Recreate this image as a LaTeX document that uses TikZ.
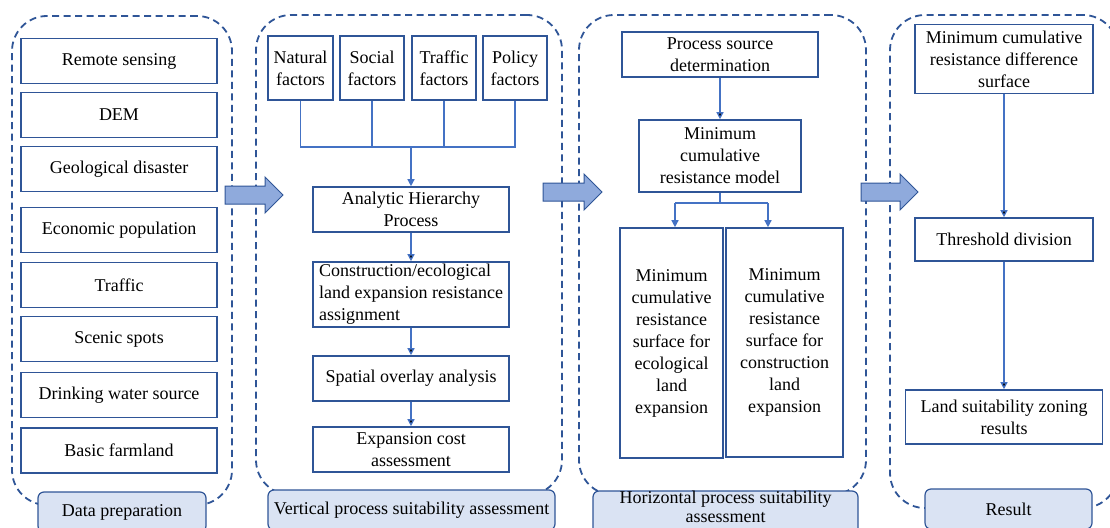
\documentclass[tikz,border=0pt]{standalone}
\usepackage{fontspec}
\setmainfont{Liberation Serif}
\usetikzlibrary{arrows.meta}
\definecolor{boxblue}{HTML}{2F5597}
\definecolor{linkblue}{HTML}{4472C4}
\definecolor{labelfill}{HTML}{DAE3F3}
\definecolor{arrowfill}{HTML}{8FAADC}

\begin{document}
\begin{tikzpicture} [x=1pt, y=-1pt, font=\fontsize{18}{22}\selectfont,
                    panel_style/.style={draw=boxblue, line width=1.8pt, dash pattern=on 7pt off 4.5pt, rounded corners=35pt, inner sep=0pt},
                    label_style/.style={draw=boxblue, line width=1.2pt, fill=labelfill, rounded corners=6pt, align=center, inner sep=0pt},
                    box_style/.style={draw=boxblue, line width=1.6pt, fill=white, align=center, inner sep=0pt},
                    link_style/.style={draw=linkblue, line width=1.3pt},
                    tip_style/.style={-{Triangle[length=7pt,width=7pt]}},
                    bigarrow_style/.style={draw=boxblue, line width=1pt, fill=arrowfill}]
                    \useasboundingbox (0,0) rectangle (1110,527);
                    % dashed stage frames
                    \node[panel_style, minimum width=220pt, minimum height=489pt] (p1) at (122,260.5) {};
                    \node[panel_style, minimum width=306pt, minimum height=480pt] (p2) at (409,255) {};
                    \node[panel_style, minimum width=287pt, minimum height=480pt] (p3) at (722.5,255) {};
                    \node[panel_style, minimum width=228pt, minimum height=493pt] (p4) at (1004,261.5) {};
                    \node[label_style, minimum width=168pt, minimum height=40pt] (l1) at (122,512) {Data preparation};
                    \node[label_style, minimum width=287pt, minimum height=40pt] (l2) at (411.5,510) {Vertical process suitability assessment};
                    \node[label_style, minimum width=265pt, minimum height=44pt] (l3) at (725.5,513) {};
                    \node[align=center, inner sep=0pt, font=\fontsize{18}{19}\selectfont, anchor=north] (l3t) at (725.5,491) {Horizontal process suitability\\assessment};
                    \node[label_style, minimum width=167pt, minimum height=40pt] (l4) at (1008.5,509) {Result};
                    % data preparation
                    \node[box_style, minimum width=196pt, minimum height=45pt] (d1) at (119,61) {Remote sensing};
                    \node[box_style, minimum width=196pt, minimum height=45pt] (d2) at (119,115) {DEM};
                    \node[box_style, minimum width=196pt, minimum height=45pt] (d3) at (119,169) {Geological disaster};
                    \node[box_style, minimum width=196pt, minimum height=45pt] (d4) at (119,230) {Economic population};
                    \node[box_style, minimum width=196pt, minimum height=45pt] (d5) at (119,285) {Traffic};
                    \node[box_style, minimum width=196pt, minimum height=45pt] (d6) at (119,339) {Scenic spots};
                    \node[box_style, minimum width=196pt, minimum height=45pt] (d7) at (119,395) {Drinking water source};
                    \node[box_style, minimum width=196pt, minimum height=45pt] (d8) at (119,450.5) {Basic farmland};
                    % vertical process
                    \node[box_style, minimum width=65pt, minimum height=64pt] (f1) at (300.5,68) {Natural\\factors};
                    \node[box_style, minimum width=64pt, minimum height=64pt] (f2) at (372,68) {Social\\factors};
                    \node[box_style, minimum width=64pt, minimum height=64pt] (f3) at (444,68) {Traffic\\factors};
                    \node[box_style, minimum width=64pt, minimum height=64pt] (f4) at (515,68) {Policy\\factors};
                    \node[box_style, minimum width=196pt, minimum height=45pt] (v1) at (411,209.5) {Analytic Hierarchy\\Process};
                    \node[box_style, minimum width=196pt, minimum height=65pt, align=left] (v2) at (411,294.5) {Construction/ecological\\land expansion resistance\\assignment};
                    \node[box_style, minimum width=196pt, minimum height=45pt] (v3) at (411,378.5) {Spatial overlay analysis};
                    \node[box_style, minimum width=196pt, minimum height=45pt] (v4) at (411,449.5) {Expansion cost\\assessment};
                    \coordinate (bus) at (411,147);
                    \draw[link_style] (f1.south) |- (bus) -| (f4.south);
                    \draw[link_style] (f2.south) -- (f2.south |- bus);
                    \draw[link_style] (f3.south) -- (f3.south |- bus);
                    \draw[link_style, tip_style] (bus) -- (v1.north);
                    \draw[link_style, tip_style] (v1) edge (v2);
                    \draw[link_style, tip_style] (v2) edge (v3);
                    \draw[link_style, tip_style] (v3) edge (v4);
                    % horizontal process
                    \node[box_style, minimum width=196pt, minimum height=45pt] (h1) at (720,54.5) {Process source\\determination};
                    \node[box_style, minimum width=162pt, minimum height=72pt] (h2) at (720,156) {Minimum\\cumulative\\resistance model};
                    \node[box_style, minimum width=103pt, minimum height=230pt] (h3) at (671.5,343) {Minimum\\cumulative\\resistance\\surface for\\ecological\\land\\expansion};
                    \node[box_style, minimum width=117pt, minimum height=229pt] (h4) at (784.5,342.5) {Minimum\\cumulative\\resistance\\surface for\\construction\\land\\expansion};
                    \coordinate (splitl) at (675,203);
                    \coordinate (splitr) at (768,203);
                    \draw[link_style, tip_style] (h1) edge (h2);
                    \draw[link_style] (h2.south) -- (h2.south |- splitl);
                    \draw[link_style] (splitl) -- (splitr);
                    \draw[link_style, tip_style] (splitl) -- (splitl |- h3.north);
                    \draw[link_style, tip_style] (splitr) -- (splitr |- h4.north);
                    % result
                    \node[box_style, minimum width=178pt, minimum height=69pt] (r1) at (1004,59) {Minimum cumulative\\resistance difference\\surface};
                    \node[box_style, minimum width=178pt, minimum height=43pt] (r2) at (1004,239.5) {Threshold division};
                    \node[box_style, minimum width=197pt, minimum height=54pt] (r3) at (1004,417) {Land suitability zoning\\results};
                    \draw[link_style, tip_style] (r1) edge (r2);
                    \draw[link_style, tip_style] (r2) edge (r3);
                    % arrows between stages
                    \draw[bigarrow_style] (225,186) -- (265,186) -- (265,177) -- (283,195) -- (265,213) -- (265,204) -- (225,204) -- cycle;
                    \draw[bigarrow_style] (543,183) -- (584,183) -- (584,174) -- (602,192) -- (584,210) -- (584,201) -- (543,201) -- cycle;
                    \draw[bigarrow_style] (861,183) -- (900,183) -- (900,174) -- (918,192) -- (900,210) -- (900,201) -- (861,201) -- cycle;
                \end{tikzpicture}
\end{document}
